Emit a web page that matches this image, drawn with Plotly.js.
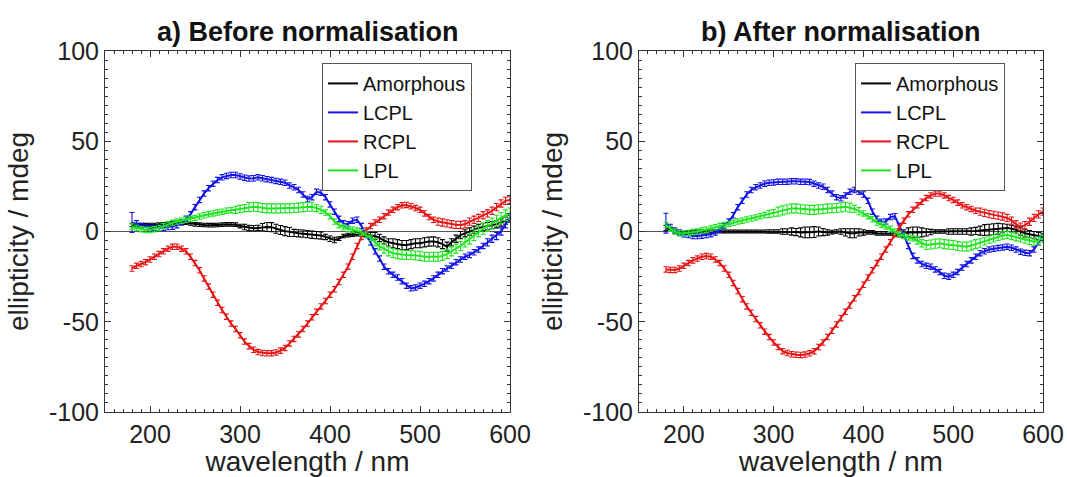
<!DOCTYPE html>
<html>
<head>
<meta charset="utf-8">
<script src="https://cdn.plot.ly/plotly-3.0.1.min.js"></script>
<style>html,body{margin:0;padding:0;background:#fff;}#chart{width:1067px;height:477px;}</style>
</head>
<body>
<div id="chart"></div>
<script>
// wavelength (nm)
const wavelength = [180,185,190,195,200,205,210,215,220,225,
230,235,240,245,250,255,260,265,270,275,
280,285,290,295,300,305,310,315,320,325,
330,335,340,345,350,355,360,365,370,375,
380,385,390,395,400,405,410,415,420,425,
430,435,440,445,450,455,460,465,470,475,
480,485,490,495,500,505,510,515,520,525,
530,535,540,545,550,555,560,565,570,575,
580,585,590,595,600];

const seriesNames = ["Amorphous","LCPL","RCPL","LPL"];
const panelTitles = ["a) Before normalisation","b) After normalisation"];
const xTitle = "wavelength / nm";
const yTitle = "ellipticity / mdeg";
const xTickVals = [200,300,400,500,600];
const xTickText = ["200","300","400","500","600"];
const yTickVals = [-100,-50,0,50,100];
const yTickText = ["-100","-50","0","50","100"];

// ---- a) Before normalisation ----
const amorphous_a = [3.6,3.6,3.5,3.5,3.6,3.6,3.8,4,4.3,4.6,
4.8,5,4.9,4.5,4,3.8,3.6,3.5,3.5,3.6,
3.8,4,4,3.8,3,2.5,2,1.8,2,2.4,
2.5,2.4,1.5,0.8,0.2,-0.3,-0.8,-1,-1.2,-1.5,
-1.8,-2,-2.2,-3,-4,-4.7,-4,-2.5,-2,-1.8,
-1.5,-1.5,-1.8,-2,-2.5,-3.5,-5,-6,-6.5,-7,
-7.5,-7.5,-7,-6.5,-6.5,-6,-5.6,-5.5,-6,-7,
-8.4,-6,-4,-2,-1,0,1,2,2.5,3,
3.5,4,5,6,7];
const amorphous_a_err = [1,1,1,1,1,1,1,1,1,1,
1,1,1,1,1,1,1,1,1,1,
1,1,1,1,1,1.5,1.5,1.5,1.5,2,
2.5,2.5,2.5,2.5,2.5,2.5,2,2,2,2,
2,2,2,1.5,1.5,1.5,1,1,1,1,
1,1,1,1.5,2,2,2,2,2.5,2.5,
2.5,2.5,2.5,2.5,2.5,2.5,2.5,2.5,2.5,2.5,
2.5,2,2,2,2,2,2,2,2,2,
2,2,2,2,2];
const lcpl_a = [5,4,3,2.5,2,2,2,2,2.5,2.7,
3.5,5,7,9.5,13.5,17.5,21,24,26.5,28.5,
30,30.8,31.3,31.3,30.5,29.8,29.3,29.5,30,29.5,
29,28.5,28,27.5,27,25.5,24.5,23,20.5,18,
19,22,21.5,19,15,11,7,4.5,4,6,
6.5,3,-2,-6,-11,-15,-19.5,-22,-24,-25.5,
-27.5,-30,-31.5,-31,-30,-29,-27.5,-26,-24,-22,
-20.5,-19,-17,-15.5,-14,-13,-11.5,-10,-8,-6,
-4,-2.5,0,4,8];
const lcpl_a_err = [5.5,2,1.5,1.5,1.5,1.5,1.5,1.5,1.5,1.5,
1.5,1.5,1.5,1.5,1.5,1.5,1.5,1.5,1.5,1.5,
1.5,1.5,1.5,1.5,1.5,1.5,1.5,1.5,1.5,1.5,
1.5,1.5,1.5,1.5,1.5,1.5,1.5,1.5,1.5,1.5,
1.5,1.5,1.5,1.5,1.5,1.5,1.5,1.5,1.5,1.5,
1.5,1.5,1.5,1.5,1.5,1.5,1.5,1.5,1.5,1.5,
1.5,1.5,1.5,1.5,1.5,1.5,1.5,1.5,1.5,1.5,
1.5,1.5,1.5,1.5,1.5,1.5,1.5,1.5,1.5,2,
2,2,2,2,2];
const rcpl_a = [-20.5,-19,-18,-17,-15.5,-14,-12.5,-11,-9.5,-8.5,
-8.4,-9.5,-11,-14,-17.5,-21.5,-26,-30.5,-35,-39.5,
-43.5,-47.2,-51,-54,-57.5,-61,-63.5,-65.5,-66.8,-67.3,
-67.5,-67.5,-67,-66,-64.5,-62,-59.5,-57,-54,-51,
-47.5,-44.5,-41.5,-38.5,-35,-32,-28,-24,-19.5,-14,
-8,-3,0.5,3,5,6.5,8.5,10.5,12,13.5,
14.5,14.7,14,13,12,10,8,6.5,5.5,5,
4.5,4,3.7,3.6,4,5.5,6.5,7.5,9,10,
11.5,13.5,15.5,17,17.5];
const rcpl_a_err = [1.5,1.5,1.5,1.5,1.5,1.5,1.5,1.5,1.5,1.5,
1.5,1.5,1.5,1.5,1.5,1.5,1.5,1.5,1.5,1.5,
1.5,1.5,1.5,1.5,1.5,1.5,1.5,1.5,1.5,1.5,
1.5,1.5,1.5,1.5,1.5,1.5,1.5,1.5,1.5,1.5,
1.5,1.5,1.5,1.5,1.5,1.5,1.5,1.5,1.5,1.5,
1.5,1.5,1.5,1.5,1.5,1.5,1.5,1.5,1.5,1.5,
1.5,1.5,1.5,1.5,1.5,1.5,1.5,1.5,2,2,
2,2,2,2,2,2,2,2,2,2,
2,2,2,2,2];
const lpl_a = [2.7,2,1.2,0.8,0.8,1.2,2,3,4,4.8,
5.5,6,6.5,7,7.5,8.3,9,9.5,10,10.5,
11,11.5,11.8,12,12.5,13,13.5,13.7,13.5,13,
12.8,12.8,12.8,12.8,12.8,12.8,13,13.2,13.5,13.7,
13.7,13,12,10.5,8.5,5.5,3.5,2.5,1.5,1,
0.5,-0.5,-1.8,-3.5,-6,-8.2,-9.5,-11,-12,-12.5,
-12.8,-13,-13,-13.3,-13.5,-14,-14,-14,-14,-13.5,
-12.5,-11,-9.5,-8,-6,-4,-2,0,1.5,3,
4.5,6,7.5,9,10];
const lpl_a_err = [1.5,1.5,1.5,1.5,1.5,1.5,1.5,1.5,1.5,1.5,
1.5,1.5,1.5,1.5,1.5,1.5,1.5,1.5,1.5,1.5,
1.5,1.5,1.5,2,2,2,2.5,2.5,2.5,2.5,
2.5,2.5,2.5,2.5,2.5,2.5,2.5,2.5,2.5,2.5,
2.5,2,2,1.5,1.5,1.5,1.5,1.5,1.5,1.5,
1.5,1.5,1.5,1.5,2,2,2.5,2.5,2.5,2.5,
2.5,2.5,2.5,2.5,2.5,2.5,2.5,2.5,2.5,2.5,
2.5,2.5,2.5,2.5,2.5,3,3,3,3,3,
3,3,3,3,3];

// ---- b) After normalisation ----
const amorphous_b = [2,1,0,-0.5,-0.5,-0.3,0,0,0,0,
0,0,0,0,0,0,0,0,0,0,
0,0,0,0,0,0,0,0,0,-0.3,
-0.5,-0.5,-0.5,-0.3,0,-0.3,-0.5,-0.3,0,0,
-0.5,-1,-1,-0.5,-0.5,-0.5,-0.5,-1,-1,-1,
-1,-1.2,-1.5,-1,-0.5,-0.5,-0.5,-0.5,-0.5,-0.3,
0,0,0,0,0,0,0,0,0,0.3,
0.5,0.8,1,1.3,1.5,1.8,2,1.5,1,0,
-1,-1.5,-2,-2.5,-3];
const amorphous_b_err = [1.5,1,0.8,0.8,0.8,0.8,0.8,0.8,0.8,0.8,
0.8,0.8,0.8,0.8,0.8,0.8,0.8,0.8,0.8,0.8,
0.8,0.8,0.8,1,1,1,1.5,1.5,2,2,
2.5,3,3,3,2.5,2,1.5,1,1,1.5,
2,2.5,2.5,2,1.5,1,1,1,1,1,
1,1,1.5,2,2.5,3,3,2.5,2,1.5,
1,1,1,1.5,1.5,1.5,1.5,1.5,2,2,
2.5,3,3,3,3,2.5,2,2,2,2,
2,2,2,2,2];
const lcpl_b = [4.6,2,0.5,-0.5,-1.5,-2,-2.5,-2.5,-2.3,-2,
-1.5,-0.5,1,3,5.5,9,13.5,17,20.5,23,
24.5,25.5,26.5,27,27.2,27.5,27.5,27.6,27.8,27.8,
27.5,27.6,27.4,26.5,25.5,24.8,23,21,19,18.4,
20,22,23,22,20.5,17,11,7,5.4,5.5,
8,8.5,3,-2,-8,-13.5,-16,-18,-19,-19.5,
-21,-22.5,-24.5,-25,-24,-22.5,-20,-18,-16,-14,
-12,-11,-10,-9.5,-9.2,-8.8,-8.4,-9,-10,-11.2,
-11.8,-12,-10,-6,-3];
const lcpl_b_err = [5.5,2,1.5,1.5,1.5,1.5,1.5,1.5,1.5,1.5,
1.5,1.5,1.5,1.5,1.5,1.5,1.5,1.5,1.5,1.5,
1.5,1.5,1.5,1.5,1.5,1.5,1.5,1.5,1.5,1.5,
1.5,1.5,1.5,1.5,1.5,1.5,1.5,1.5,1.5,1.5,
1.5,1.5,1.5,1.5,1.5,1.5,1.5,1.5,1.5,1.5,
1.5,1.5,1.5,1.5,1.5,1.5,1.5,1.5,1.5,1.5,
1.5,1.5,1.5,1.5,1.5,1.5,1.5,1.5,1.5,1.5,
1.5,1.5,1.5,1.5,1.5,1.5,1.5,1.5,1.5,1.5,
1.5,1.5,1.5,1.5,1.5];
const rcpl_b = [-21,-21.3,-21.3,-20.5,-19,-17.5,-16,-15,-14,-13.6,
-14,-15.5,-17.5,-20.5,-24,-28.5,-33,-37.5,-41.5,-45,
-48.5,-52,-55.5,-58.5,-61.5,-64,-66.3,-67.3,-68,-68.3,
-68.4,-68.2,-67.5,-66.3,-64,-61.5,-58.5,-55,-51.5,-48,
-44.5,-41,-37,-33.5,-29.5,-25.5,-21.5,-17.5,-14,-10,
-6,-1.5,2,6,9.5,12,14.5,16.5,18.5,20,
21,21,20,18.5,17.5,16,14.5,13.5,12.5,11.5,
11,10.3,9.6,9.2,8.8,8.3,7.5,6,4,2.7,
3.5,5.4,7.5,9.5,11];
const rcpl_b_err = [1.5,1.5,1.5,1.5,1.5,1.5,1.5,1.5,1.5,1.5,
1.5,1.5,1.5,1.5,1.5,1.5,1.5,1.5,1.5,1.5,
1.5,1.5,1.5,1.5,1.5,1.5,1.5,1.5,1.5,1.5,
1.5,1.5,1.5,1.5,1.5,1.5,1.5,1.5,1.5,1.5,
1.5,1.5,1.5,1.5,1.5,1.5,1.5,1.5,1.5,1.5,
1.5,1.5,1.5,1.5,1.5,1.5,1.5,1.5,1.5,1.5,
1.5,1.5,1.5,1.5,1.5,1.5,1.5,1.5,1.5,1.5,
2,2,2,2,2,2,2,2,2,2,
2,2,2,2,2];
const lpl_b = [3.6,1.5,0,-1,-1,-0.8,-0.3,0,0.5,1,
1.6,2.3,3,3.6,4.2,4.8,5.5,6,6.6,7.2,
7.8,8.5,9.1,9.7,10.2,11,11.7,12.3,12.8,12.8,
12.5,12.2,12,12,12.2,12.5,12.8,12.9,13,13.4,
13.7,13.2,12.5,11.3,10,8.5,6.8,5,3.8,2.8,
1.5,0,-1.5,-2.5,-3.3,-3.8,-5,-6.5,-7.5,-7.2,
-6.8,-6.5,-7,-7.3,-7.5,-8,-8.3,-8.4,-7.8,-7,
-6.5,-5.5,-4.5,-3.8,-3,-2.2,-1.9,-2.5,-3.2,-3.8,
-4.5,-5.2,-5.6,-5,-4];
const lpl_b_err = [1.5,1.5,1.5,1.5,1.5,1.5,1.5,1.5,1.5,1.5,
1.5,1.5,1.5,1.5,1.5,1.5,1.5,1.5,1.5,1.5,
1.5,1.5,1.5,2,2,2.5,2.5,2.5,2.5,2.5,
2.5,2.5,2.5,2.5,2.5,2.5,2.5,2.5,2.5,2.5,
2.5,2.5,2,2,1.5,1.5,1.5,1.5,1.5,1.5,
1.5,1.5,1.5,1.5,1.5,1.5,2,2,2.5,2.5,
2.5,2.5,2.5,2.5,2.5,2.5,2.5,2.5,2.5,2.5,
2.5,2,2,2,2,2,2,2,2,2,
2,2,2,2,2];

const colors = ["#000000","#1414e6","#e61414","#1ee61e"];
const FONT = "Liberation Sans, Arial, Helvetica, sans-serif";

function mk(y, err, i, xa, ya, leg) {
  return {
    x: wavelength, y: y, type: "scatter", mode: "lines",
    name: seriesNames[i], xaxis: xa, yaxis: ya, legend: leg,
    line: {color: colors[i], width: 2},
    error_y: {type: "data", array: err, visible: true, color: colors[i], thickness: 1.1, width: 2.5}
  };
}

const traces = [
  mk(amorphous_a, amorphous_a_err, 0, "x", "y", "legend"),
  mk(lcpl_a, lcpl_a_err, 1, "x", "y", "legend"),
  mk(rcpl_a, rcpl_a_err, 2, "x", "y", "legend"),
  mk(lpl_a, lpl_a_err, 3, "x", "y", "legend"),
  mk(amorphous_b, amorphous_b_err, 0, "x2", "y2", "legend2"),
  mk(lcpl_b, lcpl_b_err, 1, "x2", "y2", "legend2"),
  mk(rcpl_b, rcpl_b_err, 2, "x2", "y2", "legend2"),
  mk(lpl_b, lpl_b_err, 3, "x2", "y2", "legend2")
];

const AXC = "#333333";
function xax(domain, anchor) {
  return {
    domain: domain, anchor: anchor, range: [150, 600],
    tickmode: "array", tickvals: xTickVals, ticktext: xTickText,
    ticks: "inside", ticklen: 6, tickwidth: 1, tickcolor: AXC,
    showline: true, linecolor: AXC, linewidth: 1, mirror: "allticks",
    showgrid: false, zeroline: false,
    minor: {dtick: 10, tick0: 0, ticks: "inside", ticklen: 3, tickcolor: AXC, showgrid: false},
    tickfont: {family: FONT, size: 25, color: "#222"},
    title: {text: xTitle, font: {family: FONT, size: 28, color: "#222"}, standoff: 2}
  };
}
function yax(anchor) {
  return {
    anchor: anchor, range: [-100, 100],
    tickmode: "array", tickvals: yTickVals, ticktext: yTickText,
    ticks: "inside", ticklen: 6, tickwidth: 1, tickcolor: AXC,
    showline: true, linecolor: AXC, linewidth: 1, mirror: "allticks",
    showgrid: false, zeroline: true, zerolinecolor: "#555", zerolinewidth: 1,
    minor: {dtick: 5, tick0: 0, ticks: "inside", ticklen: 3, tickcolor: AXC, showgrid: false},
    tickfont: {family: FONT, size: 25, color: "#222"},
    title: {text: yTitle, font: {family: FONT, size: 28, color: "#222"}, standoff: 12}
  };
}

const legendBase = {
  xref: "paper", yref: "paper", xanchor: "left", yanchor: "top",
  bgcolor: "#ffffff", bordercolor: "#555", borderwidth: 1,
  font: {family: FONT, size: 20, color: "#111"}, tracegroupgap: 0, itemwidth: 30
};

const layout = {
  width: 1067, height: 477,
  margin: {l: 105, r: 24, t: 51, b: 65},
  paper_bgcolor: "#ffffff", plot_bgcolor: "#ffffff",
  showlegend: true,
  xaxis: xax([0, 0.4318], "y"),
  yaxis: yax("x"),
  xaxis2: xax([0.5693, 1], "y2"),
  yaxis2: yax("x2"),
  legend: Object.assign({}, legendBase, {x: 0.2313, y: 0.967}),
  legend2: Object.assign({}, legendBase, {x: 0.7996, y: 0.967}),
  annotations: [
    {text: "<b>" + panelTitles[0] + "</b>", xref: "paper", yref: "paper", x: 0.2159, y: 1,
     xanchor: "center", yanchor: "bottom", yshift: 2, showarrow: false,
     font: {family: FONT, size: 27, color: "#111"}},
    {text: "<b>" + panelTitles[1] + "</b>", xref: "paper", yref: "paper", x: 0.7846, y: 1,
     xanchor: "center", yanchor: "bottom", yshift: 2, showarrow: false,
     font: {family: FONT, size: 27, color: "#111"}}
  ]
};

Plotly.newPlot("chart", traces, layout, {displayModeBar: false, staticPlot: true});
</script>
</body>
</html>
